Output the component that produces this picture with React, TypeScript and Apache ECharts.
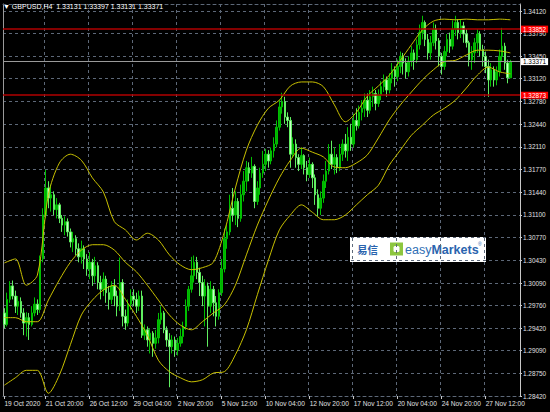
import React, { useEffect, useRef } from "react";
import * as echarts from "echarts";

// ---------- data ----------
const SYMBOL = "GBPUSD,H4";
const FIRST_BAR_UTC = Date.UTC(2020, 9, 19, 8); // first visible H4 bar
const CATEGORY_COUNT = 188; // includes empty right shift
const FIRST_OPEN = 1.2965;

const CLOSES = [
  1.2948, 1.2985, 1.3005, 1.2990, 1.2975, 1.2982, 1.2965, 1.2950, 1.2958, 1.2948,
  1.2965, 1.2978, 1.2970, 1.3045, 1.3110, 1.3150, 1.3135, 1.3140, 1.3118, 1.3125,
  1.3105, 1.3095, 1.3100, 1.3085, 1.3070, 1.3075, 1.3060, 1.3048, 1.3060, 1.3045,
  1.3030, 1.3040, 1.3020, 1.3035, 1.3010, 1.3000, 1.3015, 1.2995, 1.2985, 1.3005,
  1.2990, 1.2975, 1.3010, 1.2960, 1.2950, 1.2978, 1.2990, 1.2985, 1.2975, 1.2990,
  1.2932, 1.2940, 1.2925, 1.2935, 1.2920, 1.2928, 1.2955, 1.2965, 1.2940, 1.2925,
  1.2915, 1.2925, 1.2910, 1.2920, 1.2930, 1.2945, 1.2975, 1.3000, 1.3020, 1.3040,
  1.3025, 1.3010, 1.2990, 1.3005, 1.2975, 1.3000, 1.2980, 1.2960, 1.2995, 1.3030,
  1.3075, 1.3085, 1.3120, 1.3110, 1.3130, 1.3105, 1.3140, 1.3160, 1.3180, 1.3172,
  1.3182, 1.3130, 1.3150, 1.3172, 1.3185, 1.3200, 1.3190, 1.3205, 1.3215, 1.3240,
  1.3270, 1.3278, 1.3255, 1.3250, 1.3200, 1.3215, 1.3195, 1.3185, 1.3198, 1.3180,
  1.3170, 1.3185, 1.3165, 1.3140, 1.3120, 1.3135, 1.3160, 1.3175, 1.3200, 1.3185,
  1.3195, 1.3180, 1.3200, 1.3215, 1.3205, 1.3225, 1.3215, 1.3250, 1.3242, 1.3262,
  1.3268, 1.3280, 1.3265, 1.3285, 1.3290, 1.3275, 1.3288, 1.3300, 1.3310, 1.3295,
  1.3312, 1.3325, 1.3315, 1.3330, 1.3345, 1.3335, 1.3322, 1.3338, 1.3350, 1.3340,
  1.3362, 1.3380, 1.3395, 1.3370, 1.3350, 1.3365, 1.3385, 1.3368, 1.3345, 1.3330,
  1.3352, 1.3370, 1.3360, 1.3385, 1.3395, 1.3380, 1.3390, 1.3378, 1.3365, 1.3340,
  1.3350, 1.3365, 1.3378, 1.3355, 1.3345, 1.3330, 1.3310, 1.3325, 1.3310, 1.3322,
  1.3345, 1.3360, 1.3335, 1.33131, 1.33371,
];
const HIGHS = [
  1.2972, 1.2995, 1.3012, 1.3013, 1.2998, 1.2990, 1.2988, 1.2972, 1.2966, 1.2965,
  1.2975, 1.2988, 1.2985, 1.3050, 1.3120, 1.3177, 1.3160, 1.3155, 1.3145, 1.3135,
  1.3128, 1.3110, 1.3108, 1.3105, 1.3090, 1.3085, 1.3080, 1.3068, 1.3072, 1.3065,
  1.3052, 1.3055, 1.3045, 1.3048, 1.3040, 1.3020, 1.3025, 1.3020, 1.3005, 1.3012,
  1.3015, 1.2998, 1.3047, 1.3015, 1.2970, 1.2985, 1.3000, 1.3000, 1.2995, 1.2998,
  1.2998, 1.2948, 1.2945, 1.2942, 1.2938, 1.2940, 1.2965, 1.2975, 1.2968, 1.2945,
  1.2935, 1.2932, 1.2930, 1.2928, 1.2942, 1.2952, 1.2985, 1.3005, 1.3048, 1.3050,
  1.3048, 1.3032, 1.3020, 1.3015, 1.3010, 1.3012, 1.3005, 1.2990, 1.3000, 1.3045,
  1.3090, 1.3095, 1.3140, 1.3150, 1.3145, 1.3135, 1.3155, 1.3175, 1.3190, 1.3188,
  1.3196, 1.3185, 1.3160, 1.3180, 1.3205, 1.3208, 1.3206, 1.3210, 1.3225, 1.3250,
  1.3280, 1.3291, 1.3285, 1.3262, 1.3255, 1.3225, 1.3222, 1.3200, 1.3210, 1.3200,
  1.3190, 1.3195, 1.3188, 1.3170, 1.3148, 1.3145, 1.3170, 1.3190, 1.3215, 1.3220,
  1.3210, 1.3200, 1.3215, 1.3222, 1.3230, 1.3240, 1.3245, 1.3260, 1.3268, 1.3272,
  1.3280, 1.3290, 1.3290, 1.3295, 1.3300, 1.3295, 1.3296, 1.3308, 1.3318, 1.3315,
  1.3320, 1.3335, 1.3330, 1.3340, 1.3352, 1.3350, 1.3342, 1.3345, 1.3360, 1.3355,
  1.3370, 1.3392, 1.3405, 1.3398, 1.3378, 1.3375, 1.3395, 1.3392, 1.3372, 1.3350,
  1.3360, 1.3378, 1.3380, 1.3398, 1.3405, 1.3400, 1.3400, 1.3396, 1.3385, 1.3368,
  1.3360, 1.3372, 1.3385, 1.3382, 1.3362, 1.3352, 1.3340, 1.3335, 1.3330, 1.3330,
  1.3355, 1.3387, 1.3365, 1.3340, 1.33397,
];
const LOWS = [
  1.2942, 1.2945, 1.2980, 1.2985, 1.2965, 1.2962, 1.2958, 1.2932, 1.2930, 1.2925,
  1.2945, 1.2960, 1.2962, 1.2965, 1.3040, 1.3105, 1.3120, 1.3115, 1.3110, 1.3105,
  1.3098, 1.3085, 1.3080, 1.3078, 1.3062, 1.3055, 1.3050, 1.3040, 1.3038, 1.3030,
  1.3020, 1.3015, 1.3005, 1.3010, 1.3000, 1.2985, 1.2990, 1.2980, 1.2970, 1.2978,
  1.2975, 1.2960, 1.2968, 1.2945, 1.2940, 1.2945, 1.2970, 1.2975, 1.2965, 1.2968,
  1.2928, 1.2925, 1.2915, 1.2905, 1.2900, 1.2912, 1.2920, 1.2948, 1.2935, 1.2915,
  1.2855, 1.2905, 1.2900, 1.2902, 1.2915, 1.2920, 1.2940, 1.2968, 1.2995, 1.3010,
  1.3015, 1.2990, 1.2975, 1.2945, 1.2915, 1.2965, 1.2960, 1.2945, 1.2955, 1.2990,
  1.3025, 1.3060, 1.3080, 1.3100, 1.3095, 1.3092, 1.3100, 1.3130, 1.3145, 1.3160,
  1.3165, 1.3120, 1.3125, 1.3140, 1.3165, 1.3175, 1.3180, 1.3185, 1.3195, 1.3210,
  1.3235, 1.3260, 1.3245, 1.3240, 1.3180, 1.3195, 1.3180, 1.3175, 1.3178, 1.3170,
  1.3160, 1.3165, 1.3150, 1.3125, 1.3108, 1.3110, 1.3128, 1.3150, 1.3170, 1.3178,
  1.3170, 1.3172, 1.3175, 1.3190, 1.3195, 1.3190, 1.3205, 1.3210, 1.3235, 1.3238,
  1.3250, 1.3255, 1.3255, 1.3260, 1.3270, 1.3265, 1.3270, 1.3280, 1.3292, 1.3285,
  1.3290, 1.3305, 1.3300, 1.3308, 1.3320, 1.3318, 1.3312, 1.3315, 1.3330, 1.3325,
  1.3335, 1.3355, 1.3370, 1.3360, 1.3340, 1.3340, 1.3360, 1.3355, 1.3330, 1.3318,
  1.3325, 1.3345, 1.3350, 1.3355, 1.3375, 1.3370, 1.3372, 1.3365, 1.3358, 1.3330,
  1.3325, 1.3335, 1.3350, 1.3345, 1.3330, 1.3320, 1.3285, 1.3300, 1.3300, 1.3302,
  1.3315, 1.3338, 1.3325, 1.3305, 1.33131,
];

// Bollinger bands, read every 4th bar
const BAND_STEP = 4;
const BB_UPPER = [
  1.3039, 1.3045, 1.3006, 1.3021, 1.3140, 1.3187, 1.3200, 1.3191, 1.3165, 1.3144,
  1.3100, 1.3088, 1.3073, 1.3083, 1.3073, 1.3051, 1.3036, 1.3029, 1.3032, 1.3040,
  1.3085, 1.3150, 1.3206, 1.3243, 1.3268, 1.3280, 1.3301, 1.3307, 1.3307, 1.3300,
  1.3273, 1.3248, 1.3262, 1.3286, 1.3301, 1.3317, 1.3339, 1.3362, 1.3384, 1.3397,
  1.3400, 1.3399, 1.3400, 1.3399, 1.3399, 1.3400, 1.3399,
];
const BB_MIDDLE = [
  1.2958, 1.2958, 1.2952, 1.2952, 1.2984, 1.3014, 1.3040, 1.3058, 1.3066, 1.3066,
  1.3058, 1.3040, 1.3026, 1.3006, 1.2984, 1.2962, 1.2947, 1.2940, 1.2952, 1.2965,
  1.2977, 1.3006, 1.3051, 1.3095, 1.3132, 1.3165, 1.3191, 1.3209, 1.3203, 1.3196,
  1.3181, 1.3180, 1.3187, 1.3199, 1.3224, 1.3251, 1.3273, 1.3292, 1.3310, 1.3325,
  1.3337, 1.3339, 1.3347, 1.3354, 1.3354, 1.3353, 1.3350,
];
const BB_LOWER = [
  1.2858, 1.2869, 1.2880, 1.2880, 1.2846, 1.2873, 1.2918, 1.2962, 1.2984, 1.2999,
  1.3006, 1.2985, 1.2960, 1.2932, 1.2895, 1.2878, 1.2869, 1.2863, 1.2866, 1.2876,
  1.2878, 1.2903, 1.2940, 1.2992, 1.3043, 1.3088, 1.3110, 1.3125, 1.3114, 1.3103,
  1.3103, 1.3110, 1.3125, 1.3140, 1.3154, 1.3184, 1.3206, 1.3228, 1.3243, 1.3258,
  1.3268, 1.3280, 1.3298, 1.3317, 1.3329, 1.3322, 1.3319,
];

const RED_LEVELS = [1.33852, 1.32873];

const Y_TICKS = [
  1.2842, 1.2875, 1.2909, 1.2942, 1.2976, 1.3009, 1.3043, 1.3077, 1.311,
  1.3144, 1.3177, 1.3211, 1.3244, 1.3278, 1.3312, 1.3345, 1.3379, 1.3412,
];

const MONTHS = ["Jan", "Feb", "Mar", "Apr", "May", "Jun", "Jul", "Aug", "Sep", "Oct", "Nov", "Dec"];

// ---------- layout / style ----------
const FONT = "'Liberation Sans', Arial, sans-serif";
const GRID_COLOR = "#5d6878";
const AXIS_COLOR = "#c8c8c8";
const TEXT_COLOR = "#e0e0e0";
const Y_MIN = 1.2842;
const Y_MAX = 1.34224;

const pad = (n: number) => (n < 10 ? "0" + n : String(n));

function buildCategories(): string[] {
  const cats: string[] = [];
  let t = FIRST_BAR_UTC;
  while (cats.length < CATEGORY_COUNT) {
    const wd = new Date(t).getUTCDay();
    if (wd !== 0 && wd !== 6) cats.push(String(t));
    t += 4 * 3600 * 1000;
  }
  return cats;
}

function fmtCat(v: string, idx: number): string {
  const d = new Date(Number(v));
  const base = d.getUTCDate() + " " + MONTHS[d.getUTCMonth()];
  if (idx === 0) return base + " " + d.getUTCFullYear();
  return base + " " + pad(d.getUTCHours()) + ":" + pad(d.getUTCMinutes());
}

const isGridIdx = (i: number) => i >= 15 && (i - 15) % 16 === 0;

function buildOption() {
  const categories = buildCategories();
  const n = CLOSES.length;
  const candles = CLOSES.map((c, i) => {
    const o = i === 0 ? FIRST_OPEN : CLOSES[i - 1];
    return [o, c, Math.min(LOWS[i], o, c), Math.max(HIGHS[i], o, c)];
  });
  const band = (arr: number[]) => {
    const out: (number | null)[] = new Array(n).fill(null);
    arr.forEach((v, k) => {
      const idx = Math.min(k * BAND_STEP, n - 1);
      out[idx] = v;
    });
    return out;
  };
  const last = candles[n - 1];
  const bid = CLOSES[n - 1];
  const titleText =
    SYMBOL + "  " + [last[0], last[3], last[2], last[1]].map((v) => v.toFixed(5)).join(" ");

  const priceLabel = (bg: string, fg: string) => ({
    show: true,
    position: "end",
    distance: 1,
    formatter: (p: any) => Number(p.value).toFixed(5),
    backgroundColor: bg,
    color: fg,
    fontSize: 6.4,
    fontFamily: FONT,
    padding: [0, 2, 0, 2],
    lineHeight: 7,
  });

  const bandLine = (arr: number[]) => ({
    type: "line",
    data: band(arr),
    connectNulls: true,
    showSymbol: false,
    symbol: "none",
    smooth: 0.3,
    silent: true,
    lineStyle: { color: "#c8c000", width: 1 },
    z: 3,
  });

  return {
    animation: false,
    backgroundColor: "#000000",
    title: {
      text: "\u25BC " + titleText,
      left: 3,
      top: 3,
      padding: 0,
      textStyle: { color: "#ffffff", fontSize: 7, fontWeight: "normal", fontFamily: FONT },
    },
    grid: {
      left: 3,
      top: 4,
      width: 517,
      height: 392,
      containLabel: false,
      outerBoundsMode: "none",
    },
    xAxis: [
      {
        type: "category",
        data: categories,
        boundaryGap: true,
        axisLine: { show: true, lineStyle: { color: GRID_COLOR, type: [3, 3] } },
        axisTick: {
          show: true,
          alignWithLabel: true,
          length: 3,
          interval: (i: number) => i === 0 || isGridIdx(i),
          lineStyle: { color: AXIS_COLOR },
        },
        axisLabel: {
          interval: (i: number) => i === 0 || isGridIdx(i),
          formatter: fmtCat,
          color: TEXT_COLOR,
          fontSize: 6.6,
          fontFamily: FONT,
          align: "left",
          margin: 4,
        },
        splitLine: {
          show: true,
          interval: (i: number) => isGridIdx(i),
          lineStyle: { color: GRID_COLOR, type: [3, 3], width: 1 },
        },
      },
      {
        type: "category",
        data: categories,
        position: "top",
        axisLine: { show: true, lineStyle: { color: GRID_COLOR, type: [3, 3] } },
        axisTick: { show: false },
        axisLabel: { show: false },
        splitLine: { show: false },
      },
    ],
    yAxis: [
      {
        type: "value",
        position: "right",
        min: Y_MIN,
        max: Y_MAX,
        axisLine: { show: true, lineStyle: { color: AXIS_COLOR } },
        axisTick: { show: true, length: 2, customValues: Y_TICKS, lineStyle: { color: AXIS_COLOR } },
        axisLabel: {
          customValues: Y_TICKS,
          formatter: (v: number) => v.toFixed(5),
          color: TEXT_COLOR,
          fontSize: 6.4,
          fontFamily: FONT,
          margin: 3,
        },
        splitLine: { show: true, lineStyle: { color: GRID_COLOR, type: [3, 3], width: 1 } },
      },
      {
        type: "value",
        position: "left",
        min: Y_MIN,
        max: Y_MAX,
        axisLine: { show: true, lineStyle: { color: "#9a9a9a" } },
        axisTick: { show: false },
        axisLabel: { show: false },
        splitLine: { show: false },
      },
    ],
    series: [
      {
        type: "candlestick",
        data: candles,
        barWidth: 2,
        silent: true,
        itemStyle: {
          color: "#00b000",
          borderColor: "#00c000",
          color0: "#c8ffc8",
          borderColor0: "#60ee60",
          borderWidth: 1,
        },
        markLine: {
          symbol: ["none", "none"],
          silent: true,
          animation: false,
          precision: 5,
          data: [
            {
              yAxis: RED_LEVELS[0],
              lineStyle: { color: "#b00000", width: 1.5, type: "solid" },
              label: priceLabel("#ff0000", "#ffffff"),
            },
            {
              yAxis: RED_LEVELS[1],
              lineStyle: { color: "#b00000", width: 1.5, type: "solid" },
              label: priceLabel("#ff0000", "#ffffff"),
            },
            {
              yAxis: bid,
              lineStyle: { color: "#9a9a9a", width: 1, type: "solid" },
              label: priceLabel("#ffffff", "#000000"),
            },
          ],
        },
        z: 2,
      },
      bandLine(BB_UPPER),
      bandLine(BB_MIDDLE),
      bandLine(BB_LOWER),
    ],
    graphic: [
      {
        type: "group",
        left: 350,
        top: 237,
        children: [
          { type: "rect", shape: { x: 0, y: 0, width: 136, height: 25 }, style: { fill: "#ffffff" } },
          {
            type: "text",
            x: 7,
            y: 12.5,
            style: {
              text: "易信",
              fill: "#2b64ae",
              fontSize: 10.5,
              fontWeight: "bold",
              fontFamily: "'Noto Sans CJK SC', sans-serif",
              verticalAlign: "middle",
            },
          },
          { type: "rect", shape: { x: 40, y: 5.5, width: 13, height: 13 }, style: { fill: "#8dc63f" } },
          {
            type: "rect",
            shape: { x: 43.5, y: 9, width: 6, height: 6, r: 1.5 },
            style: { fill: "#ffffff" },
          },
          {
            type: "text",
            x: 55,
            y: 12.5,
            style: {
              text: "{a|easy}{b|Markets}",
              verticalAlign: "middle",
              rich: {
                a: { fill: "#2f6eb5", fontSize: 12.5, fontFamily: FONT, fontWeight: "normal" },
                b: { fill: "#2a64ae", fontSize: 12.5, fontFamily: FONT, fontWeight: "bold" },
              },
            },
          },
          {
            type: "text",
            x: 128,
            y: 4,
            style: { text: "®", fill: "#2a64ae", fontSize: 5, fontFamily: FONT },
          },
        ],
      },
    ],
  };
}

export default function App() {
  const ref = useRef<HTMLDivElement>(null);
  useEffect(() => {
    document.body.style.margin = "0";
    document.body.style.background = "#000";
    if (!ref.current) return;
    const chart = echarts.init(ref.current, undefined, { renderer: "svg" });
    chart.setOption(buildOption() as any);
    return () => chart.dispose();
  }, []);
  return <div ref={ref} style={{ width: 550, height: 412 }} />;
}
